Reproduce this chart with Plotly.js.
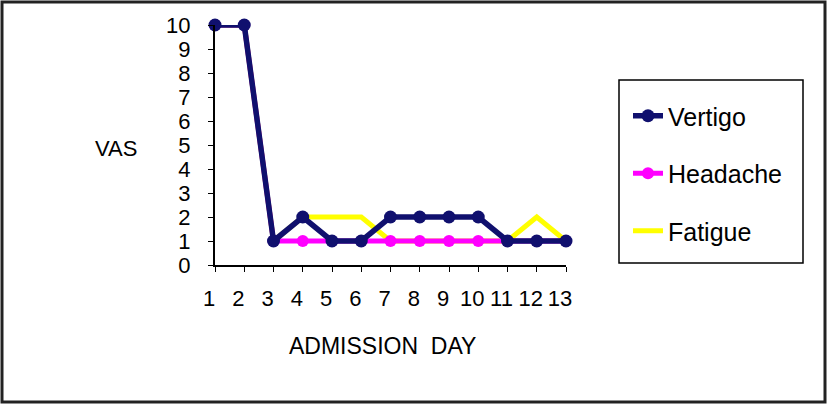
<!DOCTYPE html>
<html>
<head>
<meta charset="utf-8">
<script src="https://cdn.plot.ly/plotly-3.0.1.min.js"></script>
<style>
html,body{margin:0;padding:0;background:#fff;}
#chart{width:827px;height:404px;}
</style>
</head>
<body>
<div id="chart"></div>
<script>
var days = [1,2,3,4,5,6,7,8,9,10,11,12,13];
var dayLabels = ["1","2","3","4","5","6","7","8","9","10","11","12","13"];
var vertigo  = [10,10,1,2,1,1,2,2,2,2,1,1,1];
var headache = [10,10,1,1,1,1,1,1,1,1,1,1,1];
var fatigue  = [10,10,1,2,2,2,1,1,1,1,1,2,1];
var yTicks = [0,1,2,3,4,5,6,7,8,9,10];

var L = 215, R = 566, T = 25, B = 265;
var W = 827, H = 404;
function px(x){ return (x - L) / (R - L); }
function py(y){ return (B - y) / (B - T); }

var font = "Liberation Sans, Arial, sans-serif";

var traces = [
  {x: days, y: fatigue, name: "Fatigue", mode: "lines", cliponaxis: false,
   line: {color: "#ffff00", width: 5}, legendgroup: "c", legendrank: 3},
  {x: days, y: headache, name: "Headache", mode: "lines+markers", cliponaxis: false,
   line: {color: "#ff00ff", width: 5},
   marker: {symbol: "circle", size: 12, color: "#ff00ff"}, legendgroup: "b", legendrank: 2},
  {x: days, y: vertigo, name: "Vertigo", mode: "lines+markers", cliponaxis: false,
   line: {color: "#10106e", width: 5.5},
   marker: {symbol: "circle", size: 13, color: "#10106e"}, legendgroup: "a", legendrank: 1}
];

var layout = {
  width: W, height: H,
  margin: {l: L, r: W - R, t: T, b: H - B, pad: 0},
  paper_bgcolor: "#fff", plot_bgcolor: "#fff",
  showlegend: true,
  font: {family: font, color: "#000"},
  xaxis: {
    range: [1, 13], tickvals: days, ticktext: dayLabels, tickangle: 0,
    showgrid: false, zeroline: false, showline: true, linecolor: "#000", linewidth: 2,
    ticks: "outside", ticklen: 5, tickcolor: "#000", tickwidth: 1,
    ticklabelstandoff: 8, ticklabelshift: -6,
    tickfont: {family: font, size: 22, color: "#000"}, fixedrange: true
  },
  yaxis: {
    range: [0, 10], tickvals: yTicks, ticktext: yTicks.map(String),
    showgrid: false, zeroline: false, showline: true, linecolor: "#000", linewidth: 2,
    ticks: "outside", ticklen: 5, tickcolor: "#000", tickwidth: 1,
    ticklabelstandoff: 13,
    tickfont: {family: font, size: 22, color: "#000"}, fixedrange: true
  },
  legend: {
    x: px(628), y: py(93), xanchor: "left", yanchor: "top",
    traceorder: "grouped", tracegroupgap: 22,
    bgcolor: "rgba(0,0,0,0)", borderwidth: 0,
    font: {family: font, size: 25, color: "#000"}
  },
  annotations: [
    {text: "VAS", xref: "paper", yref: "paper", x: px(116), y: py(148),
     xanchor: "center", yanchor: "middle", showarrow: false,
     font: {family: font, size: 22, color: "#000"}},
    {text: "ADMISSION&nbsp;&nbsp;DAY", xref: "paper", yref: "paper", x: px(382), y: py(346),
     xanchor: "center", yanchor: "middle", showarrow: false,
     font: {family: font, size: 23, color: "#000"}}
  ],
  shapes: [
    {type: "rect", xref: "paper", yref: "paper",
     x0: px(619), x1: px(803), y0: py(263), y1: py(80),
     line: {color: "#000", width: 1.5}, fillcolor: "rgba(0,0,0,0)"},
    {type: "rect", xref: "paper", yref: "paper",
     x0: px(2), x1: px(825), y0: py(402), y1: py(2),
     line: {color: "#222", width: 3}, fillcolor: "rgba(0,0,0,0)"}
  ]
};

Plotly.newPlot("chart", traces, layout, {displayModeBar: false, staticPlot: true});
</script>
</body>
</html>
